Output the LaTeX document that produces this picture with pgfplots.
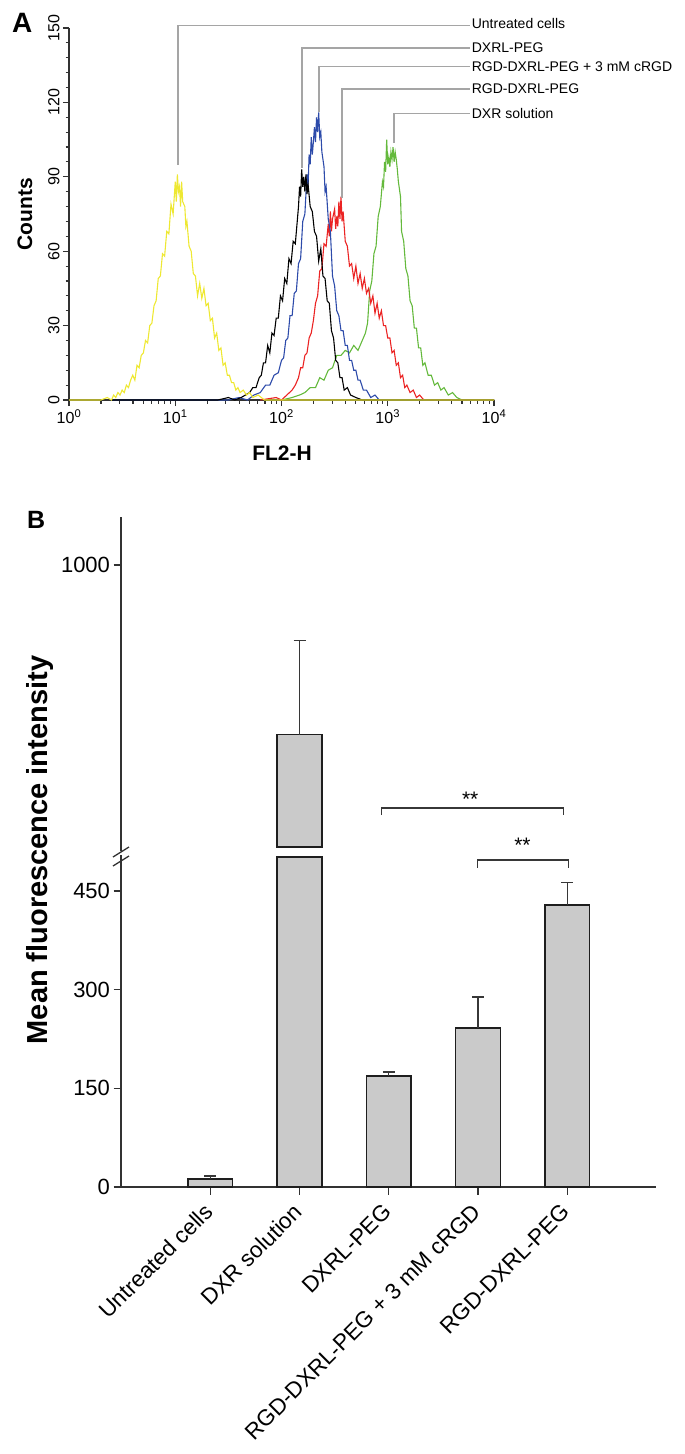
\documentclass[border=0pt]{standalone}
\usepackage{fontspec}
\setmainfont{Liberation Sans}
\usepackage{pgfplots}
\pgfplotsset{compat=1.18}
\definecolor{axc}{RGB}{50,50,50}
\definecolor{annot}{RGB}{165,165,165}
\definecolor{hyellow}{RGB}{238,232,50}
\definecolor{hblue}{RGB}{45,75,170}
\definecolor{hred}{RGB}{235,35,35}
\definecolor{hgreen}{RGB}{100,185,60}
\definecolor{barfill}{RGB}{202,202,202}
\definecolor{barline}{RGB}{30,30,30}
\definecolor{errc}{RGB}{55,55,55}
\newcommand\fs[1]{\fontsize{#1}{#1}\selectfont}
\begin{document}
\begin{tikzpicture}
\useasboundingbox (0pt,0pt) rectangle (685pt,-1454pt);
% ---------------- Panel A ----------------
\begin{axis}[
  at={(69pt,-400pt)}, anchor=south west,
  scale only axis, width=425pt, height=372pt,
  xmin=0, xmax=4, ymin=0, ymax=150,
  axis x line*=bottom, axis y line*=left,
  axis line style={line width=1.3pt, draw=axc},
  tick style={line width=1.1pt, draw=axc},
  tick align=outside,
  major tick length=6pt, minor tick length=3.5pt,
  xtick={0,1,2,3,4},
  xticklabels={10\textsuperscript{0},10\textsuperscript{1},10\textsuperscript{2},10\textsuperscript{3},10\textsuperscript{4}},
  minor xtick={0.301,0.477,0.602,0.699,0.778,0.845,0.903,0.954,
    1.301,1.477,1.602,1.699,1.778,1.845,1.903,1.954,
    2.301,2.477,2.602,2.699,2.778,2.845,2.903,2.954,
    3.301,3.477,3.602,3.699,3.778,3.845,3.903,3.954},
  ytick={0,30,60,90,120,150},
  minor y tick num=4,
  xticklabel style={font=\fs{16}},
  yticklabel style={font=\fs{16}, rotate=90, anchor=south},
  /pgf/number format/assume math mode=true,
  clip mode=individual,
]
% DXR solution (green)
\addplot[hgreen, line width=1.1pt] coordinates {
(2.00,0) (2.10,1) (2.17,2) (2.22,3) (2.27,5) (2.32,5) (2.36,9) (2.40,8) (2.44,12)
(2.48,13) (2.52,18) (2.56,18) (2.60,20) (2.64,19) (2.68,22) (2.72,20) (2.76,24)
(2.79,27) (2.81,31) (2.83,44) (2.85,48) (2.87,59) (2.89,62) (2.91,74) (2.93,78)
(2.95,88) (2.96,86) (2.97,96) (2.98,92) (2.99,105) (3.00,95) (3.01,98) (3.02,94)
(3.03,100) (3.04,97) (3.05,102) (3.06,96) (3.07,100) (3.08,97) (3.09,93) (3.10,88)
(3.11,85) (3.12,82) (3.13,68) (3.15,64) (3.17,53) (3.19,50) (3.21,40) (3.23,38)
(3.25,29) (3.27,29) (3.29,21) (3.31,21) (3.33,14) (3.35,15) (3.38,10) (3.41,10)
(3.44,6) (3.47,7) (3.50,4) (3.53,5) (3.57,2) (3.61,3) (3.65,1) (3.70,0) (4.00,0)};
% RGD-DXRL-PEG (red)
\addplot[hred, line width=1.1pt] coordinates {
(1.80,0) (1.95,1) (2.00,0) (2.05,2) (2.10,4) (2.13,6) (2.16,9) (2.18,13) (2.20,13)
(2.22,18) (2.24,19) (2.26,25) (2.28,27) (2.30,32) (2.32,39) (2.34,42) (2.36,52)
(2.38,53) (2.40,63) (2.42,62) (2.44,71) (2.45,66) (2.46,76) (2.47,68) (2.48,73)
(2.50,77) (2.51,69) (2.52,74) (2.53,70) (2.54,80) (2.55,73) (2.56,82) (2.57,72)
(2.58,76) (2.60,64) (2.62,62) (2.64,54) (2.66,55) (2.68,49) (2.70,54) (2.72,47)
(2.74,51) (2.76,45) (2.78,49) (2.80,43) (2.82,45) (2.84,39) (2.86,42) (2.88,35)
(2.90,39) (2.92,33) (2.94,36) (2.96,30) (2.98,30) (3.00,25) (3.02,25) (3.04,19)
(3.06,20) (3.08,14) (3.10,15) (3.12,9) (3.14,10) (3.16,5) (3.18,6) (3.21,3)
(3.24,4) (3.27,1) (3.30,2) (3.34,0) (4.00,0)};
% RGD-DXRL-PEG + 3 mM cRGD (blue)
\addplot[hblue, line width=1.1pt] coordinates {
(0.40,0) (1.50,0) (1.60,1) (1.68,0) (1.74,2) (1.80,3) (1.85,6) (1.89,6) (1.93,10)
(1.97,11) (2.00,16) (2.02,17) (2.04,24) (2.06,25) (2.08,34) (2.10,34) (2.12,43)
(2.14,44) (2.16,55) (2.18,57) (2.20,72) (2.22,75) (2.24,91) (2.25,86) (2.26,99)
(2.27,95) (2.28,106) (2.29,99) (2.30,104) (2.31,110) (2.32,104) (2.33,114)
(2.34,108) (2.35,116) (2.36,106) (2.37,108) (2.38,100) (2.40,94) (2.41,84)
(2.42,86) (2.44,73) (2.46,68) (2.48,50) (2.50,46) (2.52,36) (2.54,34) (2.56,28)
(2.58,28) (2.60,22) (2.62,22) (2.64,16) (2.66,16) (2.68,12) (2.70,12) (2.72,8)
(2.74,8) (2.77,4) (2.80,4) (2.84,1) (2.88,2) (2.92,0) (4.00,0)};
% DXRL-PEG (black)
\addplot[black, line width=1.1pt] coordinates {
(0.40,0) (1.40,0) (1.50,1) (1.56,0) (1.62,1) (1.66,2) (1.70,3) (1.73,5) (1.76,5)
(1.79,9) (1.81,10) (1.83,15) (1.85,15) (1.87,22) (1.89,19) (1.91,27) (1.93,26)
(1.95,33) (1.97,33) (1.99,42) (2.01,40) (2.03,49) (2.05,47) (2.07,57) (2.09,55)
(2.11,64) (2.13,63) (2.15,73) (2.16,78) (2.17,86) (2.18,82) (2.19,93) (2.20,86)
(2.21,90) (2.22,84) (2.23,91) (2.24,83) (2.25,87) (2.27,78) (2.29,76) (2.31,68)
(2.33,66) (2.35,56) (2.37,61) (2.39,50) (2.41,49) (2.43,40) (2.45,39) (2.47,28)
(2.49,25) (2.51,16) (2.53,15) (2.55,9) (2.57,9) (2.59,4) (2.62,5) (2.65,2)
(2.70,1) (2.76,0) (4.00,0)};
% Untreated cells (yellow)
\addplot[hyellow, line width=1.1pt] coordinates {
(0.00,0) (0.20,0) (0.30,0) (0.36,1) (0.40,0) (0.42,2) (0.44,1) (0.46,3) (0.48,2)
(0.50,4) (0.52,3) (0.54,6) (0.56,5) (0.58,8) (0.60,10) (0.62,8) (0.64,14) (0.66,13)
(0.68,18) (0.70,19) (0.72,24) (0.74,23) (0.76,30) (0.78,31) (0.80,38) (0.82,40)
(0.84,49) (0.86,50) (0.88,59) (0.90,58) (0.92,68) (0.94,67) (0.96,79) (0.98,75)
(1.00,88) (1.01,80) (1.02,91) (1.03,84) (1.04,86) (1.05,78) (1.06,88) (1.07,80)
(1.09,78) (1.10,70) (1.11,72) (1.13,62) (1.15,60) (1.17,51) (1.19,50) (1.21,42)
(1.23,47) (1.25,41) (1.27,45) (1.29,38) (1.31,39) (1.33,32) (1.35,33) (1.37,25)
(1.39,27) (1.41,20) (1.43,21) (1.45,14) (1.47,15) (1.49,10) (1.51,10) (1.53,7)
(1.55,7) (1.57,4) (1.59,5) (1.61,3) (1.64,4) (1.67,2) (1.70,3) (1.73,1) (1.78,2)
(1.84,0) (1.90,0) (2.00,0) (4.00,0)};
% annotation leaders
\draw[annot, line width=1.2pt] (axis cs:1.026,94.8) |- (axis cs:3.774,151.0);
\draw[annot, line width=1.2pt] (axis cs:2.193,93.5) |- (axis cs:3.774,141.9);
\draw[annot, line width=1.2pt] (axis cs:2.353,116.1) |- (axis cs:3.774,134.6);
\draw[annot, line width=1.2pt] (axis cs:2.569,81.5) |- (axis cs:3.774,125.4);
\draw[annot, line width=1.2pt] (axis cs:3.059,103.6) |- (axis cs:3.774,115.6);
\node[anchor=west, inner sep=1pt, font=\fs{14}] at (axis cs:3.78,152.0) {Untreated cells};
\node[anchor=west, inner sep=1pt, font=\fs{14}] at (axis cs:3.78,141.9) {DXRL-PEG};
\node[anchor=west, inner sep=1pt, font=\fs{14}] at (axis cs:3.78,134.6) {RGD-DXRL-PEG + 3 mM cRGD};
\node[anchor=west, inner sep=1pt, font=\fs{14}] at (axis cs:3.78,125.4) {RGD-DXRL-PEG};
\node[anchor=west, inner sep=1pt, font=\fs{14}] at (axis cs:3.78,115.6) {DXR solution};
\end{axis}
% ---------------- Panel B upper ----------------
\begin{axis}[
  at={(121pt,-851pt)}, anchor=south west,
  scale only axis, width=535.5pt, height=334pt,
  xmin=-1, xmax=5, ymin=565.2, ymax=1073,
  axis y line*=left, axis x line=none,
  axis line style={line width=1.3pt, draw=axc},
  tick style={line width=1.3pt, draw=axc},
  tick align=outside, major tick length=7.5pt,
  ytick={1000}, xtick=\empty,
  yticklabel style={font=\fs{22}},
  /pgf/number format/assume math mode=true,
  /pgf/number format/1000 sep={},
  clip mode=individual,
]
\addplot[fill=barfill, draw=barline, line width=1.4pt] coordinates {(0.75,571.3) (0.75,742) (1.25,742) (1.25,571.3)} -- cycle;
\addplot[draw=none, error bars/.cd, y dir=plus, y explicit,
  error bar style={line width=1.4pt, draw=errc},
  error mark options={rotate=90, mark size=6pt, line width=1.4pt, draw=errc}]
  coordinates {(1,742) +- (0,143)};
\draw[errc, line width=1.4pt] (axis cs:1.917,619.9) -- (axis cs:1.917,630.6) -- (axis cs:3.957,630.6) -- (axis cs:3.957,619.9);
\node[anchor=base, inner sep=0pt, font=\fs{21}] at (axis cs:2.913,633.6) {**};
\end{axis}
% ---------------- Panel B lower ----------------
\begin{axis}[
  at={(121pt,-1187pt)}, anchor=south west,
  scale only axis, width=535.5pt, height=332pt,
  xmin=-1, xmax=5, ymin=0, ymax=504.7,
  axis x line*=bottom, axis y line*=left,
  axis line style={line width=1.3pt, draw=axc},
  tick style={line width=1.3pt, draw=axc},
  tick align=outside, major tick length=7.5pt,
  xtick={0,1,2,3,4},
  xticklabels={Untreated cells, DXR solution, DXRL-PEG, RGD-DXRL-PEG + 3 mM cRGD, RGD-DXRL-PEG},
  xticklabel style={yshift=-11pt, xshift=1pt, rotate=45, anchor=east, font=\fs{22.5}},
  ytick={0,150,300,450},
  yticklabel style={font=\fs{22}},
  /pgf/number format/assume math mode=true,
  clip mode=individual,
]
\addplot[ybar, bar width=0.5, bar shift=0pt, fill=barfill, draw=barline, line width=1.4pt,
  error bars/.cd, y dir=plus, y explicit,
  error bar style={line width=1.4pt, draw=errc},
  error mark options={rotate=90, mark size=6pt, line width=1.4pt, draw=errc}]
  coordinates {(0,12) +- (0,5) (2,169) +- (0,6) (3,242) +- (0,47) (4,428.6) +- (0,34)};
\addplot[ybar, bar width=0.5, bar shift=0pt, fill=barfill, draw=barline, line width=1.4pt]
  coordinates {(1,501.7)};
\draw[errc, line width=1.4pt] (axis cs:2.993,485) -- (axis cs:2.993,497.1) -- (axis cs:4.013,497.1) -- (axis cs:4.013,485);
\node[anchor=base, inner sep=0pt, font=\fs{21}] at (axis cs:3.498,507.8) {**};
\end{axis}
% axis break marks
\draw[axc, line width=1.3pt] (113pt,-857pt) -- (129pt,-847pt);
\draw[axc, line width=1.3pt] (113pt,-866pt) -- (129pt,-856pt);
% labels
\node[font=\bfseries\fs{28}, anchor=base west, inner sep=0pt] at (12pt,-32pt) {A};
\node[font=\bfseries\fs{21}, rotate=90, anchor=base, inner sep=0pt] at (32pt,-214pt) {Counts};
\node[font=\bfseries\fs{21}, anchor=base, inner sep=0pt] at (282pt,-460pt) {FL2-H};
\node[font=\bfseries\fs{25}, anchor=base west, inner sep=0pt] at (27pt,-528pt) {B};
\node[font=\bfseries\fs{29}, rotate=90, anchor=base, inner sep=0pt] at (47pt,-850pt) {Mean fluorescence intensity};
\end{tikzpicture}
\end{document}
